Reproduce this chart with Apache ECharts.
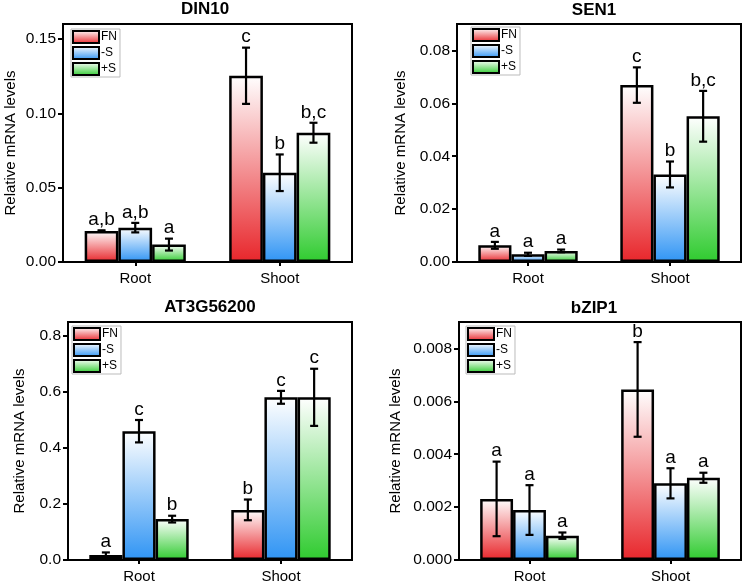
<!DOCTYPE html>
<html>
<head>
<meta charset="utf-8">
<script src="https://cdn.jsdelivr.net/npm/echarts@6/dist/echarts.min.js"></script>
<style>
html,body{margin:0;padding:0;background:#fff;}
#c{width:747px;height:585px;}
</style>
</head>
<body>
<div id="c"></div>
<script>
// ---- data ----
const categories = ['Root', 'Shoot'];
const treatments = ['FN', '-S', '+S'];
const genes = ['DIN10', 'SEN1', 'AT3G56200', 'bZIP1'];

// DIN10
const din10Values = [[0.0208, 0.1252], [0.0231, 0.0600], [0.0117, 0.0869]];
const din10Errors = [[0.0005, 0.0189], [0.0032, 0.0123], [0.0040, 0.0067]];
const din10Letters = [['a,b', 'c'], ['a,b', 'b'], ['a', 'b,c']];
const din10Ticks = [0, 0.05, 0.10, 0.15];

// SEN1
const sen1Values = [[0.0063, 0.0669], [0.0029, 0.0331], [0.0042, 0.0551]];
const sen1Errors = [[0.0013, 0.0067], [0.0006, 0.0049], [0.0005, 0.0096]];
const sen1Letters = [['a', 'c'], ['a', 'b'], ['a', 'b,c']];
const sen1Ticks = [0, 0.02, 0.04, 0.06, 0.08];

// AT3G56200
const at3gValues = [[0.018, 0.179], [0.460, 0.581], [0.146, 0.581]];
const at3gErrors = [[0.009, 0.037], [0.040, 0.023], [0.012, 0.102]];
const at3gLetters = [['a', 'b'], ['c', 'c'], ['b', 'c']];
const at3gTicks = [0, 0.2, 0.4, 0.6, 0.8];

// bZIP1
const bzip1Values = [[0.00231, 0.00645], [0.00189, 0.00290], [0.00092, 0.00311]];
const bzip1Errors = [[0.00141, 0.00179], [0.00094, 0.00057], [0.00012, 0.00019]];
const bzip1Letters = [['a', 'b'], ['a', 'a'], ['a', 'a']];
const bzip1Ticks = [0, 0.002, 0.004, 0.006, 0.008];

// ---- layout / style ----
const FONT = '"Liberation Sans", Arial, sans-serif';
const COLORS = ['#e8262b', '#2f94f4', '#2fcb2f'];
const GAP = 0.30;
const panels = [
  {values: din10Values, errors: din10Errors, letters: din10Letters, ticks: din10Ticks, max: 0.16, dec: 2,
   grid: {left: 63, top: 24, width: 289, height: 238}, nameGap: 45, title: [205, 9], legend: [71, 29]},
  {values: sen1Values, errors: sen1Errors, letters: sen1Letters, ticks: sen1Ticks, max: 0.09, dec: 2,
   grid: {left: 457, top: 24, width: 284, height: 238}, nameGap: 49, title: [594, 10], legend: [471, 27]},
  {values: at3gValues, errors: at3gErrors, letters: at3gLetters, ticks: at3gTicks, max: 0.85, dec: 1,
   grid: {left: 68, top: 322, width: 284, height: 238}, nameGap: 41, title: [210, 307], legend: [72, 326]},
  {values: bzip1Values, errors: bzip1Errors, letters: bzip1Letters, ticks: bzip1Ticks, max: 0.009, dec: 3,
   grid: {left: 459, top: 322, width: 282, height: 238}, nameGap: 56, title: [594, 308], legend: [466, 326]}
];

function grad(c) {
  return new echarts.graphic.LinearGradient(0, 0, 0, 1, [
    {offset: 0, color: '#ffffff'},
    {offset: 1, color: c}
  ]);
}

const grids = [], xAxes = [], yAxes = [], series = [], legends = [], graphics = [];

panels.forEach((p, pi) => {
  grids.push(Object.assign({show: true, borderColor: '#000', borderWidth: 2, backgroundColor: 'transparent'}, p.grid));
  xAxes.push({
    type: 'category', gridIndex: pi, data: categories,
    axisLine: {lineStyle: {color: '#000', width: 2}},
    axisTick: {show: true, alignWithLabel: true, length: 4, lineStyle: {color: '#000', width: 2}},
    axisLabel: {color: '#000', fontSize: 15, fontFamily: FONT, margin: 9}
  });
  yAxes.push({
    type: 'value', gridIndex: pi, min: 0, max: p.max,
    name: 'Relative mRNA levels', nameLocation: 'middle', nameGap: p.nameGap,
    nameTextStyle: {color: '#000', fontSize: 15, fontFamily: FONT},
    axisLine: {show: true, lineStyle: {color: '#000', width: 2}},
    axisTick: {show: true, length: 5, lineStyle: {color: '#000', width: 2}, customValues: p.ticks},
    axisLabel: {color: '#000', fontSize: 15.5, fontFamily: FONT, margin: 7, customValues: p.ticks,
      formatter: v => v.toFixed(p.dec)},
    splitLine: {show: false}
  });
  treatments.forEach((t, si) => {
    series.push({
      type: 'bar', name: t, xAxisIndex: pi, yAxisIndex: pi,
      data: p.values[si],
      barGap: '0%', barCategoryGap: (GAP * 100) + '%',
      itemStyle: {color: grad(COLORS[si]), borderColor: '#000', borderWidth: 2.5},
      emphasis: {disabled: true},
      z: 2
    });
  });
  const errData = [], letterList = [];
  treatments.forEach((t, si) => {
    categories.forEach((c, ci) => {
      errData.push([ci, p.values[si][ci], p.errors[si][ci], si]);
      letterList.push(p.letters[si][ci]);
    });
  });
  series.push({
    type: 'custom', xAxisIndex: pi, yAxisIndex: pi, z: 5, silent: true,
    encode: {x: 0, y: 1},
    data: errData,
    renderItem: function (params, api) {
      const c = api.value(0), v = api.value(1), e = api.value(2), s = api.value(3);
      const base = api.coord([c, v]);
      const top = api.coord([c, v + e]);
      const bot = api.coord([c, v - e]);
      const band = api.size([1, 0])[0];
      const bw = band * (1 - GAP) / 3;
      const x = base[0] + (s - 1) * bw;
      const cap = 4;
      const ls = {stroke: '#000', lineWidth: 2.2};
      return {
        type: 'group',
        children: [
          {type: 'line', shape: {x1: x, y1: top[1], x2: x, y2: bot[1]}, style: ls},
          {type: 'line', shape: {x1: x - cap, y1: top[1], x2: x + cap, y2: top[1]}, style: ls},
          {type: 'line', shape: {x1: x - cap, y1: bot[1], x2: x + cap, y2: bot[1]}, style: ls},
          {type: 'text', x: x, y: top[1] - 1,
           style: {text: letterList[params.dataIndex], fill: '#000', fontSize: 19, fontFamily: FONT,
                   align: 'center', verticalAlign: 'bottom'}}
        ]
      };
    }
  });
  legends.push({
    left: p.legend[0], top: p.legend[1], orient: 'vertical',
    data: treatments, icon: 'rect', itemWidth: 26, itemHeight: 12, itemGap: 2,
    padding: [1, 3, 1, 1], borderColor: '#bbb', borderWidth: 1, backgroundColor: '#fff',
    selectedMode: false,
    itemStyle: {borderColor: '#000', borderWidth: 2},
    textStyle: {color: '#000', fontSize: 12, fontFamily: FONT, padding: [0, 0, 0, -3]}
  });
  graphics.push({
    type: 'text', x: p.title[0], y: p.title[1],
    style: {text: genes[pi], fill: '#000', fontSize: 17, fontWeight: 'bold', fontFamily: FONT,
            align: 'center', verticalAlign: 'middle'}
  });
});

const chart = echarts.init(document.getElementById('c'), null, {renderer: 'canvas'});
chart.setOption({
  animation: false,
  backgroundColor: '#fff',
  grid: grids, xAxis: xAxes, yAxis: yAxes, series: series, legend: legends,
  graphic: graphics
});
</script>
</body>
</html>
